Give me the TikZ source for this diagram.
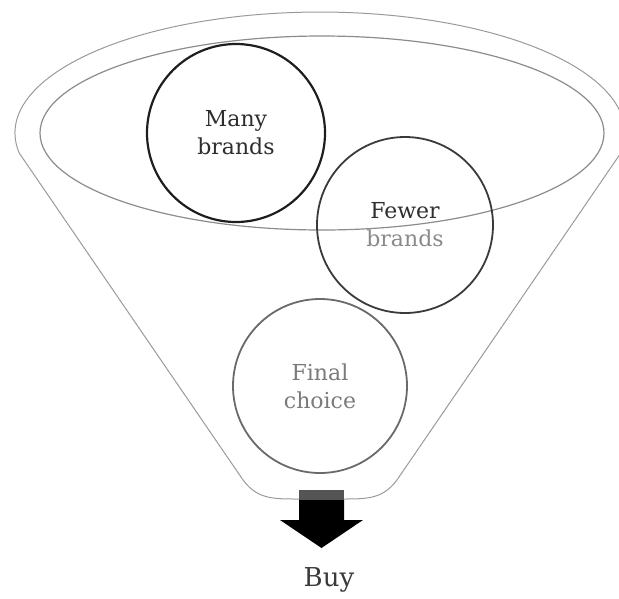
\documentclass[tikz,border=0pt]{standalone}
\usepackage{fontspec}
\setmainfont{DejaVu Serif}
\definecolor{ellcol}{HTML}{8C8C8C}
\definecolor{funcol}{HTML}{9A9A9A}
\definecolor{c1}{HTML}{1E1E1E}
\definecolor{c2}{HTML}{3A3A3A}
\definecolor{c3}{HTML}{6A6A6A}
\definecolor{t1}{HTML}{2E2E2E}
\definecolor{t2}{HTML}{8A8A8A}
\definecolor{t3}{HTML}{7A7A7A}
\definecolor{arrtop}{HTML}{555555}
\tikzset{
  bubble/.style={circle, minimum size=#1, inner sep=0pt, align=center,
    font=\fontsize{22}{28}\selectfont},
}
\begin{document}
\begin{tikzpicture}[x=1pt,y=-1pt]
\useasboundingbox (0,0) rectangle (619,598);
% funnel outline
\draw[funcol, line width=1pt]
  (19.2,153) arc[start angle=170.5, end angle=369.5, x radius=305, y radius=121]
  -- (399,477) .. controls (385,498) and (370,499) .. (345,499)
  -- (295,499) .. controls (270,499) and (255,498) .. (241,477) -- cycle;
% inner ellipse (funnel mouth)
\draw[ellcol, line width=1.2pt] (322,133) ellipse [x radius=282, y radius=97];
% stages
\node[bubble=178pt, draw=c1, line width=2.2pt, text=t1] (many) at (236,133) {Many\\brands};
\node[bubble=176pt, draw=c2, line width=1.8pt] (fewer) at (405,225)
  {\textcolor{t1}{Fewer}\\\textcolor{t2}{brands}};
\node[bubble=174pt, draw=c3, line width=1.8pt, text=t3] (final) at (320,386) {Final\\choice};
% arrow out of the funnel
\fill[arrtop] (299,490) rectangle (344,500);
\fill[black] (299,500) -- (344,500) -- (344,520) -- (363,520) -- (321.5,548)
  -- (280,520) -- (299,520) -- cycle;
\node[font=\fontsize{26}{30}\selectfont, text=c2] (buy) at (329,580) {Buy};
\end{tikzpicture}
\end{document}
